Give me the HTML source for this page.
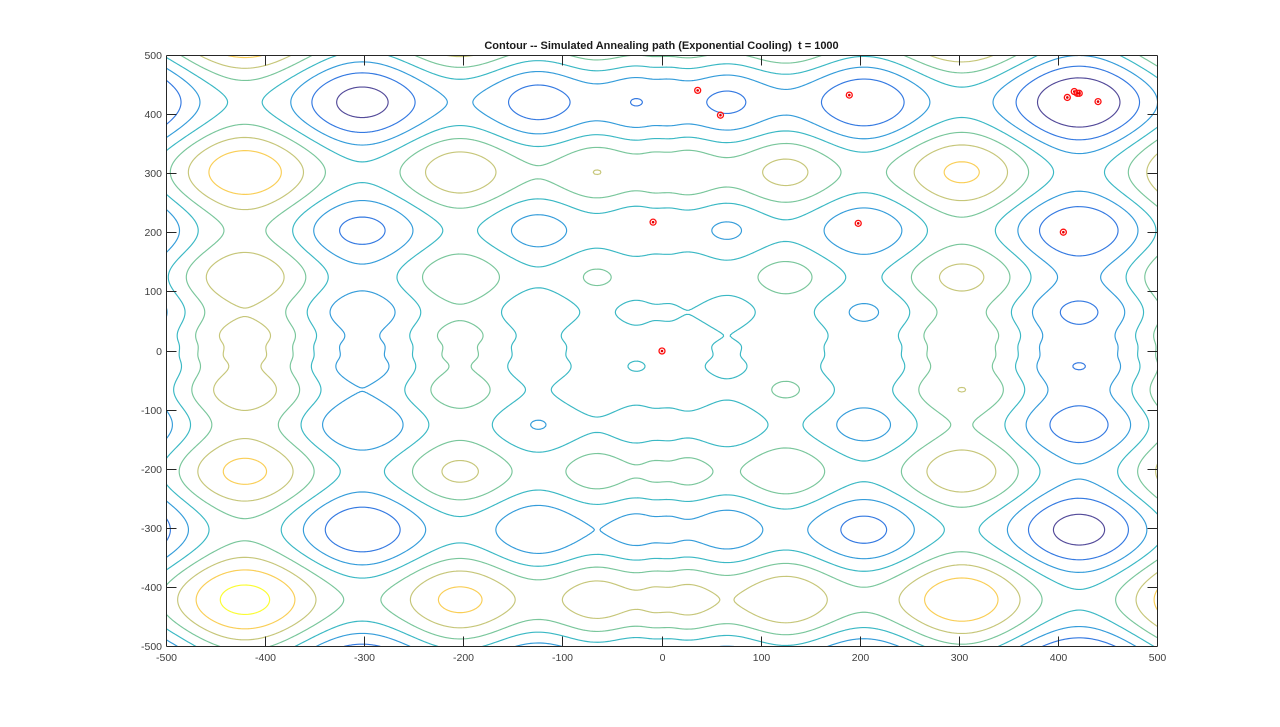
<!DOCTYPE html>
<html lang="en">
<head>
<meta charset="utf-8">
<title>Contour -- Simulated Annealing path</title>
<style>
html,body{margin:0;padding:0;background:#fff;}
svg{display:block;}
text{font-family:"Liberation Sans",Arial,sans-serif;}
</style>
</head>
<body>
<svg id="chart" xmlns="http://www.w3.org/2000/svg" width="1280" height="727" viewBox="0 0 1280 727">
<rect x="0" y="0" width="1280" height="727" fill="#ffffff"/>
<text id="title" x="661.5" y="49" text-anchor="middle" font-size="11" font-weight="bold" fill="#1a1a1a" style="white-space:pre">Contour -- Simulated Annealing path (Exponential Cooling)  t = 1000</text>
<defs><clipPath id="plot-clip"><rect x="166.5" y="55.5" width="991" height="591"/></clipPath></defs>
<g id="contours" clip-path="url(#plot-clip)"></g>
<g id="path-points"></g>
<g id="axes"></g>
</svg>
<script>
// Tick labels
const xTicks = [-500,-400,-300,-200,-100,0,100,200,300,400,500];
const yTicks = [-500,-400,-300,-200,-100,0,100,200,300,400,500];
// Contour levels
const contourLevels = [200,400,600,800,1000,1200,1400,1600];
// Surface: height = surfaceOffset + profile(x) + profile(y)
const surfaceOffset = 837.97;
// Profile sampled at 0, 10, 20 ... 500 (mirrored with opposite sign for negative coordinates)
const surfaceProfile = [
0,0.2,19.4,21.7,-1.7,-35.4,-59.7,-61.0,-37.0,5.6,
54.4,96.1,119.9,119.4,93.8,47.0,-13.2,-77.3,-135.2,-178.3,
-200.0,-197.0,-168.9,-118.7,-51.5,25.8,105.2,178.8,239.3,281.0,
299.7,293.4,262.3,208.5,135.7,49.3,-44.6,-139.2,-228.2,-305.3,
-365.2,-404.0,-418.9,-408.6,-373.8,-315.8,-237.9,-144.1,-39.4,70.7,
180.6];
// Annealing path samples
const pathX = [0,-9,198,405,59,36,189,409,416,419,421,440];
const pathY = [0,218,216,201,399,441,433,429,439,436,436,422];

const NS = 'http://www.w3.org/2000/svg';
const plotLeft = 166.5, plotRight = 1157.5, plotTop = 55.5, plotBottom = 646.5;
const xMin = -500, xMax = 500, yMin = -500, yMax = 500;
function xScale(v){ return plotLeft + (v - xMin) / (xMax - xMin) * (plotRight - plotLeft); }
function yScale(v){ return plotBottom - (v - yMin) / (yMax - yMin) * (plotBottom - plotTop); }

const parula = [[53,42,135],[15,92,221],[20,129,214],[6,164,202],[46,183,164],[135,191,119],[209,187,89],[254,200,50],[249,251,14]];
function levelColor(level){
  const lo = Math.min.apply(null, contourLevels), hi = Math.max.apply(null, contourLevels);
  const t = hi > lo ? Math.max(0, Math.min(1, (level - lo) / (hi - lo))) : 0;
  const p = t * (parula.length - 1), i = Math.min(parula.length - 2, Math.floor(p)), f = p - i;
  const c = [0,1,2].map(function(k){ return Math.round(parula[i][k] + (parula[i+1][k] - parula[i][k]) * f); });
  return 'rgb(' + c.join(',') + ')';
}

// Natural cubic spline through the mirrored profile samples
const nodeStep = 10;
const nodes = [];
for (let i = surfaceProfile.length - 1; i > 0; i--) nodes.push(-surfaceProfile[i]);
for (let i = 0; i < surfaceProfile.length; i++) nodes.push(surfaceProfile[i]);
const n = nodes.length;
const curv = new Float64Array(n);
(function(){
  const c = new Float64Array(n), d = new Float64Array(n);
  for (let i = 1; i < n - 1; i++) {
    const rhs = 6 * (nodes[i-1] - 2 * nodes[i] + nodes[i+1]) / (nodeStep * nodeStep);
    const m = 4 - c[i-1];
    c[i] = 1 / m;
    d[i] = (rhs - d[i-1]) / m;
  }
  for (let i = n - 2; i > 0; i--) curv[i] = d[i] - c[i] * curv[i+1];
})();
function profileAt(v){
  const s = (v - xMin) / nodeStep;
  const i = Math.max(0, Math.min(n - 2, Math.floor(s)));
  const b = s - i, a = 1 - b, h2 = nodeStep * nodeStep;
  return a * nodes[i] + b * nodes[i+1] + ((a*a*a - a) * curv[i] + (b*b*b - b) * curv[i+1]) * h2 / 6;
}

// Marching squares on a fine grid
const gridStep = 2.5;
const gridN = Math.round((xMax - xMin) / gridStep) + 1;
const prof = new Float64Array(gridN);
for (let i = 0; i < gridN; i++) prof[i] = profileAt(xMin + i * gridStep);

function contourPath(level){
  const out = [];
  function px(i){ return (xScale(xMin + i * gridStep)).toFixed(2); }
  function py(j){ return (yScale(yMin + j * gridStep)).toFixed(2); }
  function seg(a, b){ out.push('M' + a[0] + ' ' + a[1] + 'L' + b[0] + ' ' + b[1]); }
  for (let j = 0; j < gridN - 1; j++) {
    for (let i = 0; i < gridN - 1; i++) {
      const z00 = surfaceOffset + prof[i] + prof[j];
      const z10 = surfaceOffset + prof[i+1] + prof[j];
      const z01 = surfaceOffset + prof[i] + prof[j+1];
      const z11 = surfaceOffset + prof[i+1] + prof[j+1];
      const code = (z00 > level ? 1 : 0) | (z10 > level ? 2 : 0) | (z11 > level ? 4 : 0) | (z01 > level ? 8 : 0);
      if (code === 0 || code === 15) continue;
      const bottom = function(){ return [px(i + (level - z00) / (z10 - z00)), py(j)]; };
      const top = function(){ return [px(i + (level - z01) / (z11 - z01)), py(j + 1)]; };
      const left = function(){ return [px(i), py(j + (level - z00) / (z01 - z00))]; };
      const right = function(){ return [px(i + 1), py(j + (level - z10) / (z11 - z10))]; };
      switch (code) {
        case 1: case 14: seg(left(), bottom()); break;
        case 2: case 13: seg(bottom(), right()); break;
        case 3: case 12: seg(left(), right()); break;
        case 4: case 11: seg(top(), right()); break;
        case 6: case 9: seg(bottom(), top()); break;
        case 7: case 8: seg(left(), top()); break;
        case 5: seg(left(), top()); seg(bottom(), right()); break;
        case 10: seg(left(), bottom()); seg(top(), right()); break;
      }
    }
  }
  return out.join('');
}

const contourGroup = document.getElementById('contours');
contourLevels.forEach(function(level){
  const p = document.createElementNS(NS, 'path');
  
  
  p.setAttribute('d', contourPath(level));
  p.setAttribute('fill', 'none');
  p.setAttribute('stroke', levelColor(level));
  p.setAttribute('stroke-width', '1.15');
  p.setAttribute('stroke-opacity', '0.85');
  p.setAttribute('stroke-linecap', 'round');
  contourGroup.appendChild(p);
});

// Path markers
const pointGroup = document.getElementById('path-points');
pathX.forEach(function(x, i){
  const ring = document.createElementNS(NS, 'circle');
  
  
  ring.setAttribute('cx', xScale(x));
  ring.setAttribute('cy', yScale(pathY[i]));
  ring.setAttribute('r', '3');
  ring.setAttribute('fill', 'none');
  ring.setAttribute('stroke', '#ff1010');
  ring.setAttribute('stroke-width', '1.3');
  pointGroup.appendChild(ring);
  const dot = document.createElementNS(NS, 'circle');
  
  
  dot.setAttribute('cx', xScale(x));
  dot.setAttribute('cy', yScale(pathY[i]));
  dot.setAttribute('r', '1.3');
  dot.setAttribute('fill', '#e00000');
  pointGroup.appendChild(dot);
});

// Axes
const axesGroup = document.getElementById('axes');
const axisColor = '#262626', tickLen = 10;
function addLine(name, x1, y1, x2, y2){
  const l = document.createElementNS(NS, 'line');
  
  
  l.setAttribute('x1', x1);
  l.setAttribute('y1', y1);
  l.setAttribute('x2', x2);
  l.setAttribute('y2', y2);
  l.setAttribute('stroke', axisColor);
  l.setAttribute('stroke-width', '1');
  axesGroup.appendChild(l);
}
function addLabel(name, x, y, anchor, str){
  const t = document.createElementNS(NS, 'text');
  
  
  t.setAttribute('x', x);
  t.setAttribute('y', y);
  t.setAttribute('text-anchor', anchor);
  t.setAttribute('font-size', '10.5');
  t.setAttribute('fill', '#404040');
  t.textContent = str;
  axesGroup.appendChild(t);
}
addLine('plot-frame-left', plotLeft, plotTop, plotLeft, plotBottom);
addLine('plot-frame-right', plotRight, plotTop, plotRight, plotBottom);
addLine('plot-frame-top', plotLeft, plotTop, plotRight, plotTop);
addLine('plot-frame-bottom', plotLeft, plotBottom, plotRight, plotBottom);
xTicks.forEach(function(v){
  const x = Math.round(xScale(v) - 0.5) + 0.5;
  addLine('x-tick-bottom', x, plotBottom, x, plotBottom - tickLen);
  addLine('x-tick-top', x, plotTop, x, plotTop + tickLen);
  addLabel('x-tick-label', x, 661, 'middle', String(v));
});
yTicks.forEach(function(v){
  const y = Math.round(yScale(v) - 0.5) + 0.5;
  addLine('y-tick-left', plotLeft, y, plotLeft + tickLen, y);
  addLine('y-tick-right', plotRight, y, plotRight - tickLen, y);
  addLabel('y-tick-label', 162, y + 3.5, 'end', String(v));
});
</script>
</body>
</html>
